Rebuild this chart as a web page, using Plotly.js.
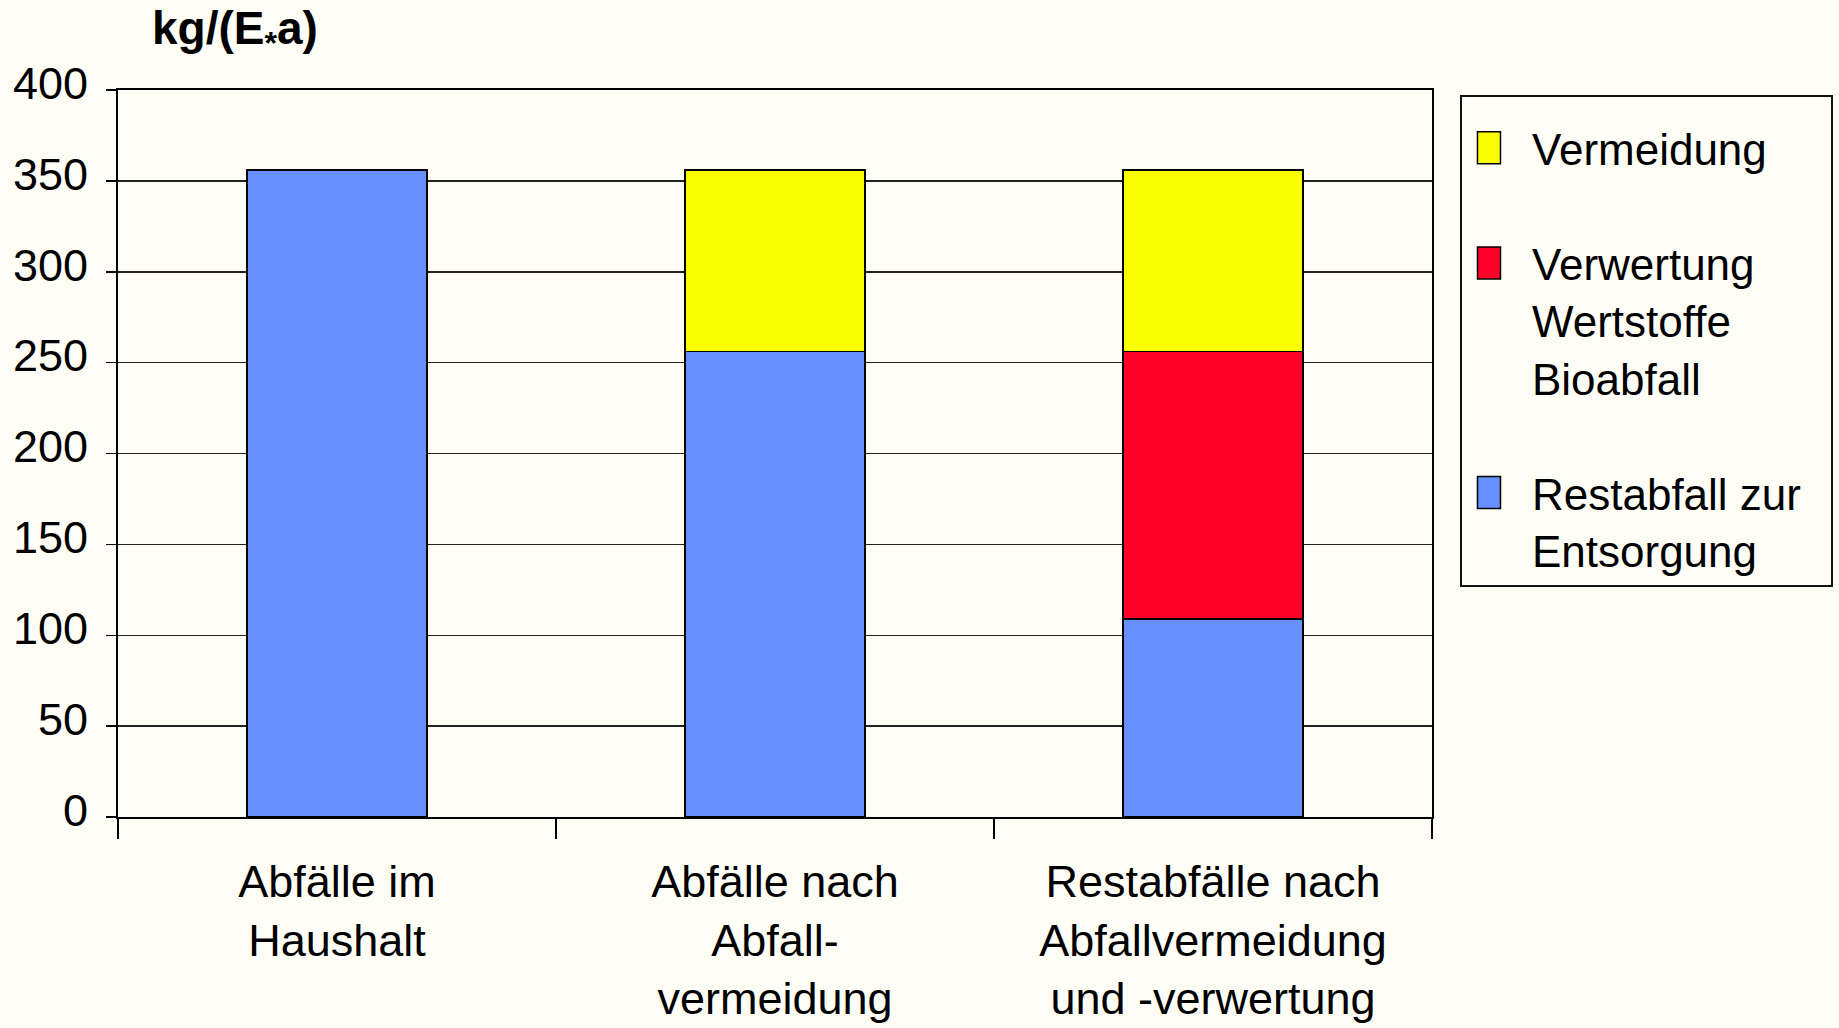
<!DOCTYPE html>
<html>
<head>
<meta charset="utf-8">
<script src="https://cdn.plot.ly/plotly-3.0.1.min.js"></script>
<style>
  html, body { margin: 0; padding: 0; background: #FEFEF7; }
  #chart { width: 1839px; height: 1028px; }
</style>
</head>
<body>
<div id="chart"></div>
<script>
// ---- data ----
var categories = [
  "Abfälle im<br>Haushalt",
  "Abfälle nach<br>Abfall-<br>vermeidung",
  "Restabfälle nach<br>Abfallvermeidung<br>und -verwertung"
];
var restabfall = [356, 256, 109];     // blue
var verwertung = [null, null, 147];   // red
var vermeidung = [null, 100, 100];    // yellow
var seriesNames = [
  "Restabfall zur<br>Entsorgung",
  "Verwertung<br>Wertstoffe<br>Bioabfall",
  "Vermeidung"
];
var seriesColors = ["#6690FF", "#FF0029", "#F9FF00"];
var legendRanks = [3, 2, 1];
var yTitle = "kg/(E<sub>*</sub>a)";
var yTicks = [0, 50, 100, 150, 200, 250, 300, 350, 400];

var FONT = "Liberation Sans, Arial, Helvetica, sans-serif";
var seriesValues = [restabfall, verwertung, vermeidung];

// widen the legend box a little (trailing non-breaking spaces on the first line)
function legendLabel(name) {
  var parts = name.split("<br>");
  parts[0] = parts[0] + "&nbsp;&nbsp;";
  return parts.join("<br>");
}

var traces = seriesValues.map(function (vals, i) {
  return {
    type: "bar",
    x: categories,
    y: vals,
    name: legendLabel(seriesNames[i]),
    legendgroup: "g" + i,
    legendrank: legendRanks[i],
    marker: { color: seriesColors[i], line: { color: "#000", width: 1.5 } },
    hoverinfo: "skip"
  };
});

var layout = {
  width: 1839,
  height: 1028,
  paper_bgcolor: "#FEFEF7",
  plot_bgcolor: "#FEFEF7",
  barmode: "stack",
  bargap: 0.59,
  margin: { l: 118, r: 407, t: 90, b: 211, pad: 0, autoexpand: false },
  font: { family: FONT, size: 45, color: "#000" },
  showlegend: true,
  legend: {
    x: 1.0213, xanchor: "left",
    y: 0.993, yanchor: "top",
    bgcolor: "rgba(0,0,0,0)",
    bordercolor: "#111",
    borderwidth: 2,
    font: { family: FONT, size: 44, color: "#000" },
    title: { text: "&nbsp;", font: { family: FONT, size: 12, color: "#000" } },
    traceorder: "grouped",
    tracegroupgap: 55,
    valign: "top",
    itemwidth: 60
  },
  xaxis: {
    type: "category",
    showline: true, linecolor: "#000", linewidth: 2, mirror: true,
    ticks: "outside", tickson: "boundaries", ticklen: 20, tickwidth: 1.5, tickcolor: "#000",
    ticklabelstandoff: 24,
    tickfont: { family: FONT, size: 45, color: "#000" },
    showgrid: false, zeroline: false, fixedrange: true
  },
  yaxis: {
    range: [0, 400],
    tickvals: yTicks,
    ticktext: yTicks.map(String),
    showline: true, linecolor: "#000", linewidth: 2, mirror: true,
    ticks: "outside", ticklen: 10, tickwidth: 1.5, tickcolor: "#000",
    ticklabelstandoff: 9,
    ticklabelshift: -7,
    showgrid: true, gridcolor: "#222", gridwidth: 1.5,
    zeroline: false,
    tickfont: { family: FONT, size: 45, color: "#000" },
    fixedrange: true
  },
  annotations: [{
    xref: "paper", yref: "paper",
    x: 0.0244, y: 1.0798, xanchor: "left", yanchor: "middle",
    text: "<b>" + yTitle + "</b>",
    showarrow: false,
    font: { family: FONT, size: 46, color: "#000" }
  }]
};

function enlargeSwatches() {
  document.querySelectorAll(".legend .legendpoints path").forEach(function (p) {
    p.setAttribute("d", "M3.5,16H-19.5V-16H3.5Z");
  });
}

Plotly.newPlot("chart", traces, layout, { staticPlot: true, displayModeBar: false }).then(function () {
  enlargeSwatches();
  setTimeout(enlargeSwatches, 50);
});
</script>
</body>
</html>
